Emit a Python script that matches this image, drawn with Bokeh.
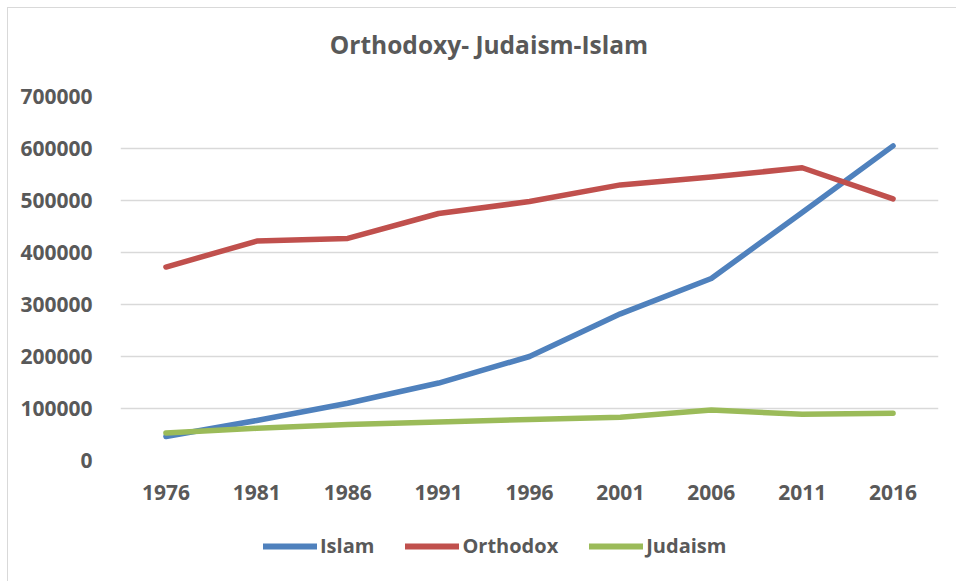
from bokeh.plotting import figure
from bokeh.layouts import column
from bokeh.models import (Legend, LegendItem, SingleIntervalTicker, NumeralTickFormatter,
                          FactorRange, Range1d, Div)
from bokeh.embed import file_html
from bokeh.resources import INLINE

title_text = "Orthodoxy- Judaism-Islam"
years = ["1976", "1981", "1986", "1991", "1996", "2001", "2006", "2011", "2016"]
islam = [46000, 77000, 110000, 149000, 200000, 282000, 350000, 477000, 605000]
orthodox = [372000, 422000, 427000, 475000, 498000, 530000, 545000, 563000, 503000]
judaism = [53000, 62000, 69000, 74000, 79000, 83000, 97000, 89000, 91000]
series = [("Islam", islam, "#4f81bd"), ("Orthodox", orthodox, "#c0504d"), ("Judaism", judaism, "#9bbb59")]

FONT = "Open Sans"
TXT = "#595959"
GRID = "#d9d9d9"

title = Div(text=title_text, width=948, height=60, margin=0,
            styles={"font-family": "'Open Sans'", "font-weight": "bold", "font-size": "24.5px",
                    "color": TXT, "text-align": "center", "line-height": "30px",
                    "padding-top": "22px", "padding-left": "14px", "box-sizing": "border-box",
                    "background": "white"})

p = figure(width=948, height=450, x_range=FactorRange(*years, range_padding=0),
           y_range=Range1d(0, 700000), output_backend="svg", toolbar_location=None,
           min_border_left=112, min_border_right=18, min_border_top=28, min_border_bottom=58)
p.outline_line_color = None
p.background_fill_color = "white"
p.border_fill_color = "white"

for name, vals, col in series:
    p.line(years, vals, line_color=col, line_width=5.5, line_cap="round", line_join="round")

p.yaxis.ticker = SingleIntervalTicker(interval=100000)
p.yaxis.formatter = NumeralTickFormatter(format="0")
for ax in (p.xaxis[0], p.yaxis[0]):
    ax.axis_line_color = None
    ax.major_tick_line_color = None
    ax.minor_tick_line_color = None
    ax.major_label_text_font = FONT
    ax.major_label_text_font_style = "bold"
    ax.major_label_text_font_size = "21px"
    ax.major_label_text_color = TXT
p.yaxis.major_label_standoff = 22
p.xaxis.major_label_standoff = 18

p.xgrid.grid_line_color = None
p.ygrid.grid_line_color = GRID
p.ygrid.grid_line_width = 1.5

# legend strip below the chart (its lines lie outside its own view)
p2 = figure(width=948, height=63, x_range=FactorRange(*years, range_padding=0),
            y_range=Range1d(1000000, 2000000),
            output_backend="svg", toolbar_location=None,
            x_axis_location=None, y_axis_location=None, min_border=0)
p2.grid.visible = False
p2.outline_line_color = None
p2.background_fill_color = "white"
p2.border_fill_color = "white"
items = []
for name, vals, col in series:
    r = p2.line(years, vals, line_color=col, line_width=6, line_cap="round")
    items.append(LegendItem(label=name, renderers=[r]))
legend = Legend(items=items, orientation="horizontal", location=(143, 22),
                label_text_font=FONT, label_text_font_style="bold",
                label_text_font_size="20px", label_text_color=TXT,
                glyph_width=54, glyph_height=20, label_standoff=3, spacing=31,
                border_line_color=None, background_fill_alpha=0,
                padding=5, margin=0)
p2.add_layout(legend, "center")

layout = column(title, p, p2, spacing=0,
                styles={"margin-left": "7px", "margin-top": "7px",
                        "border-left": "1px solid #d9d9d9", "border-top": "1px solid #d9d9d9"})

with open("out.html", "w") as f:
    f.write(file_html(layout, INLINE))
